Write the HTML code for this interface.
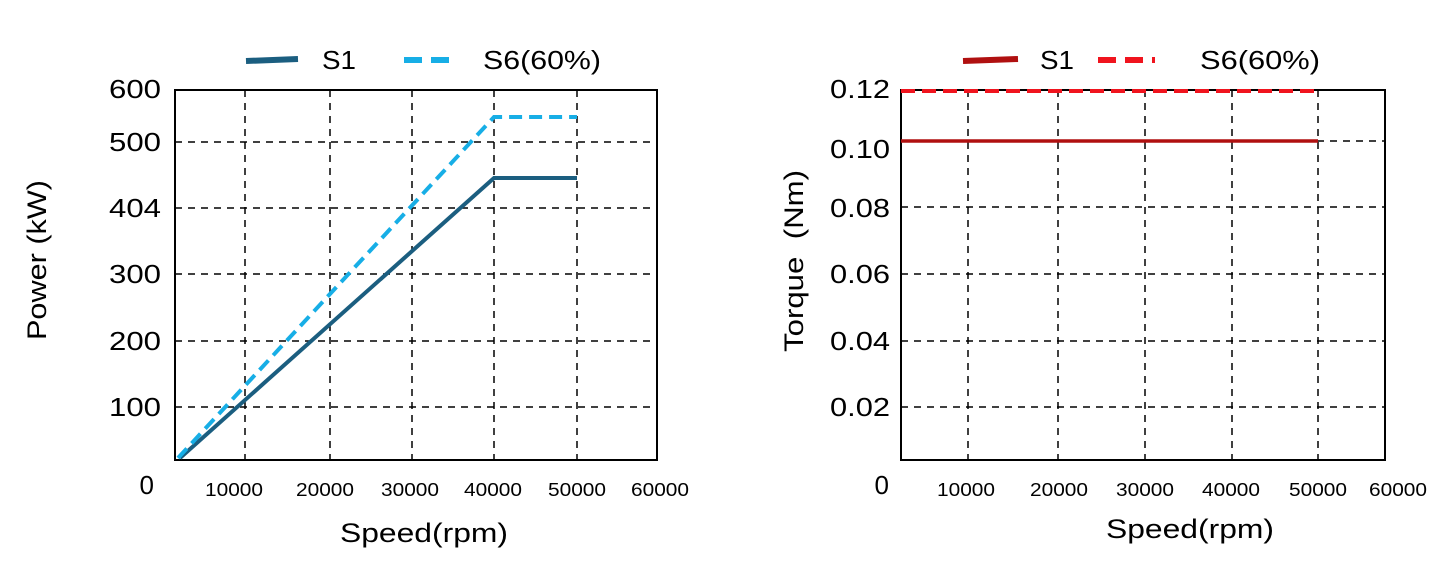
<!DOCTYPE html>
<html><head><meta charset="utf-8"><style>body{margin:0;background:#fff}</style></head><body>
<svg width="1452" height="570" viewBox="0 0 1452 570" xmlns="http://www.w3.org/2000/svg" font-family="Liberation Sans, sans-serif">
<rect width="1452" height="570" fill="#fff"/>
<g stroke="#000" stroke-width="1.5" stroke-dasharray="7,6" fill="none">
<path d="M175 142H657M175 208H657M175 274H657M175 341H657M175 407H657"/>
<path d="M245 90V460M330 90V460M412 90V460M494 90V460M577 90V460"/>
<path d="M901 141H1385M901 207H1385M901 274H1385M901 341H1385M901 407H1385"/>
<path d="M968 90V460M1058 90V460M1145 90V460M1232 90V460M1318 90V460"/>
</g>
<rect x="175" y="90" width="482" height="370" fill="none" stroke="#000" stroke-width="2"/>
<rect x="901" y="90" width="484" height="370" fill="none" stroke="#000" stroke-width="2"/>
<polyline points="180,458 494,178 577,178" fill="none" stroke="#1b5e80" stroke-width="4"/>
<polyline points="178,458 494,117 577,117" fill="none" stroke="#17aee6" stroke-width="4" stroke-dasharray="13,7"/>
<line x1="901" y1="91" x2="1318" y2="91" stroke="#f0141e" stroke-width="4" stroke-dasharray="14,7"/>
<line x1="901" y1="141" x2="1318" y2="141" stroke="#b01010" stroke-width="3.5"/>
<g font-size="26">
<line x1="246" y1="61" x2="298" y2="59" stroke="#1b5e80" stroke-width="6"/>
<text x="322" y="69" textLength="34" lengthAdjust="spacingAndGlyphs">S1</text>
<line x1="404" y1="60" x2="458" y2="60" stroke="#17aee6" stroke-width="6" stroke-dasharray="18,9"/>
<text x="483" y="69" textLength="118" lengthAdjust="spacingAndGlyphs">S6(60%)</text>
<line x1="963" y1="61" x2="1018" y2="59" stroke="#b01010" stroke-width="6"/>
<text x="1040" y="69" textLength="34" lengthAdjust="spacingAndGlyphs">S1</text>
<line x1="1098" y1="60" x2="1155" y2="60" stroke="#f0141e" stroke-width="6" stroke-dasharray="18,9"/>
<text x="1200" y="69" textLength="120" lengthAdjust="spacingAndGlyphs">S6(60%)</text>
</g>
<g font-size="26" text-anchor="end">
<text x="161" y="98" textLength="52" lengthAdjust="spacingAndGlyphs">600</text><text x="161" y="151" textLength="52" lengthAdjust="spacingAndGlyphs">500</text><text x="161" y="217" textLength="52" lengthAdjust="spacingAndGlyphs">404</text>
<text x="161" y="283" textLength="52" lengthAdjust="spacingAndGlyphs">300</text><text x="161" y="350" textLength="52" lengthAdjust="spacingAndGlyphs">200</text><text x="161" y="416" textLength="52" lengthAdjust="spacingAndGlyphs">100</text>
<text x="154" y="494">0</text>
<text x="890" y="98" textLength="60" lengthAdjust="spacingAndGlyphs">0.12</text><text x="890" y="158" textLength="60" lengthAdjust="spacingAndGlyphs">0.10</text><text x="890" y="217" textLength="60" lengthAdjust="spacingAndGlyphs">0.08</text>
<text x="890" y="283" textLength="60" lengthAdjust="spacingAndGlyphs">0.06</text><text x="890" y="350" textLength="60" lengthAdjust="spacingAndGlyphs">0.04</text><text x="890" y="416" textLength="60" lengthAdjust="spacingAndGlyphs">0.02</text>
<text x="889" y="494">0</text>
</g>
<g font-size="18">
<text x="205" y="496" textLength="58" lengthAdjust="spacingAndGlyphs">10000</text><text x="296" y="496" textLength="58" lengthAdjust="spacingAndGlyphs">20000</text><text x="381" y="496" textLength="58" lengthAdjust="spacingAndGlyphs">30000</text>
<text x="464" y="496" textLength="58" lengthAdjust="spacingAndGlyphs">40000</text><text x="548" y="496" textLength="58" lengthAdjust="spacingAndGlyphs">50000</text><text x="631" y="496" textLength="58" lengthAdjust="spacingAndGlyphs">60000</text>
<text x="937" y="496" textLength="58" lengthAdjust="spacingAndGlyphs">10000</text><text x="1030" y="496" textLength="58" lengthAdjust="spacingAndGlyphs">20000</text><text x="1116" y="496" textLength="58" lengthAdjust="spacingAndGlyphs">30000</text>
<text x="1202" y="496" textLength="58" lengthAdjust="spacingAndGlyphs">40000</text><text x="1289" y="496" textLength="58" lengthAdjust="spacingAndGlyphs">50000</text><text x="1369" y="496" textLength="58" lengthAdjust="spacingAndGlyphs">60000</text>
</g>
<g font-size="27">
<text x="340" y="542" textLength="168" lengthAdjust="spacingAndGlyphs">Speed(rpm)</text>
<text x="1106" y="538" textLength="168" lengthAdjust="spacingAndGlyphs">Speed(rpm)</text>
<text transform="translate(46,340) rotate(-90)" textLength="160" lengthAdjust="spacingAndGlyphs">Power (kW)</text>
<text transform="translate(803,352) rotate(-90)" textLength="182" lengthAdjust="spacingAndGlyphs" xml:space="preserve">Torque  (Nm)</text>
</g>
</svg>
</body></html>
